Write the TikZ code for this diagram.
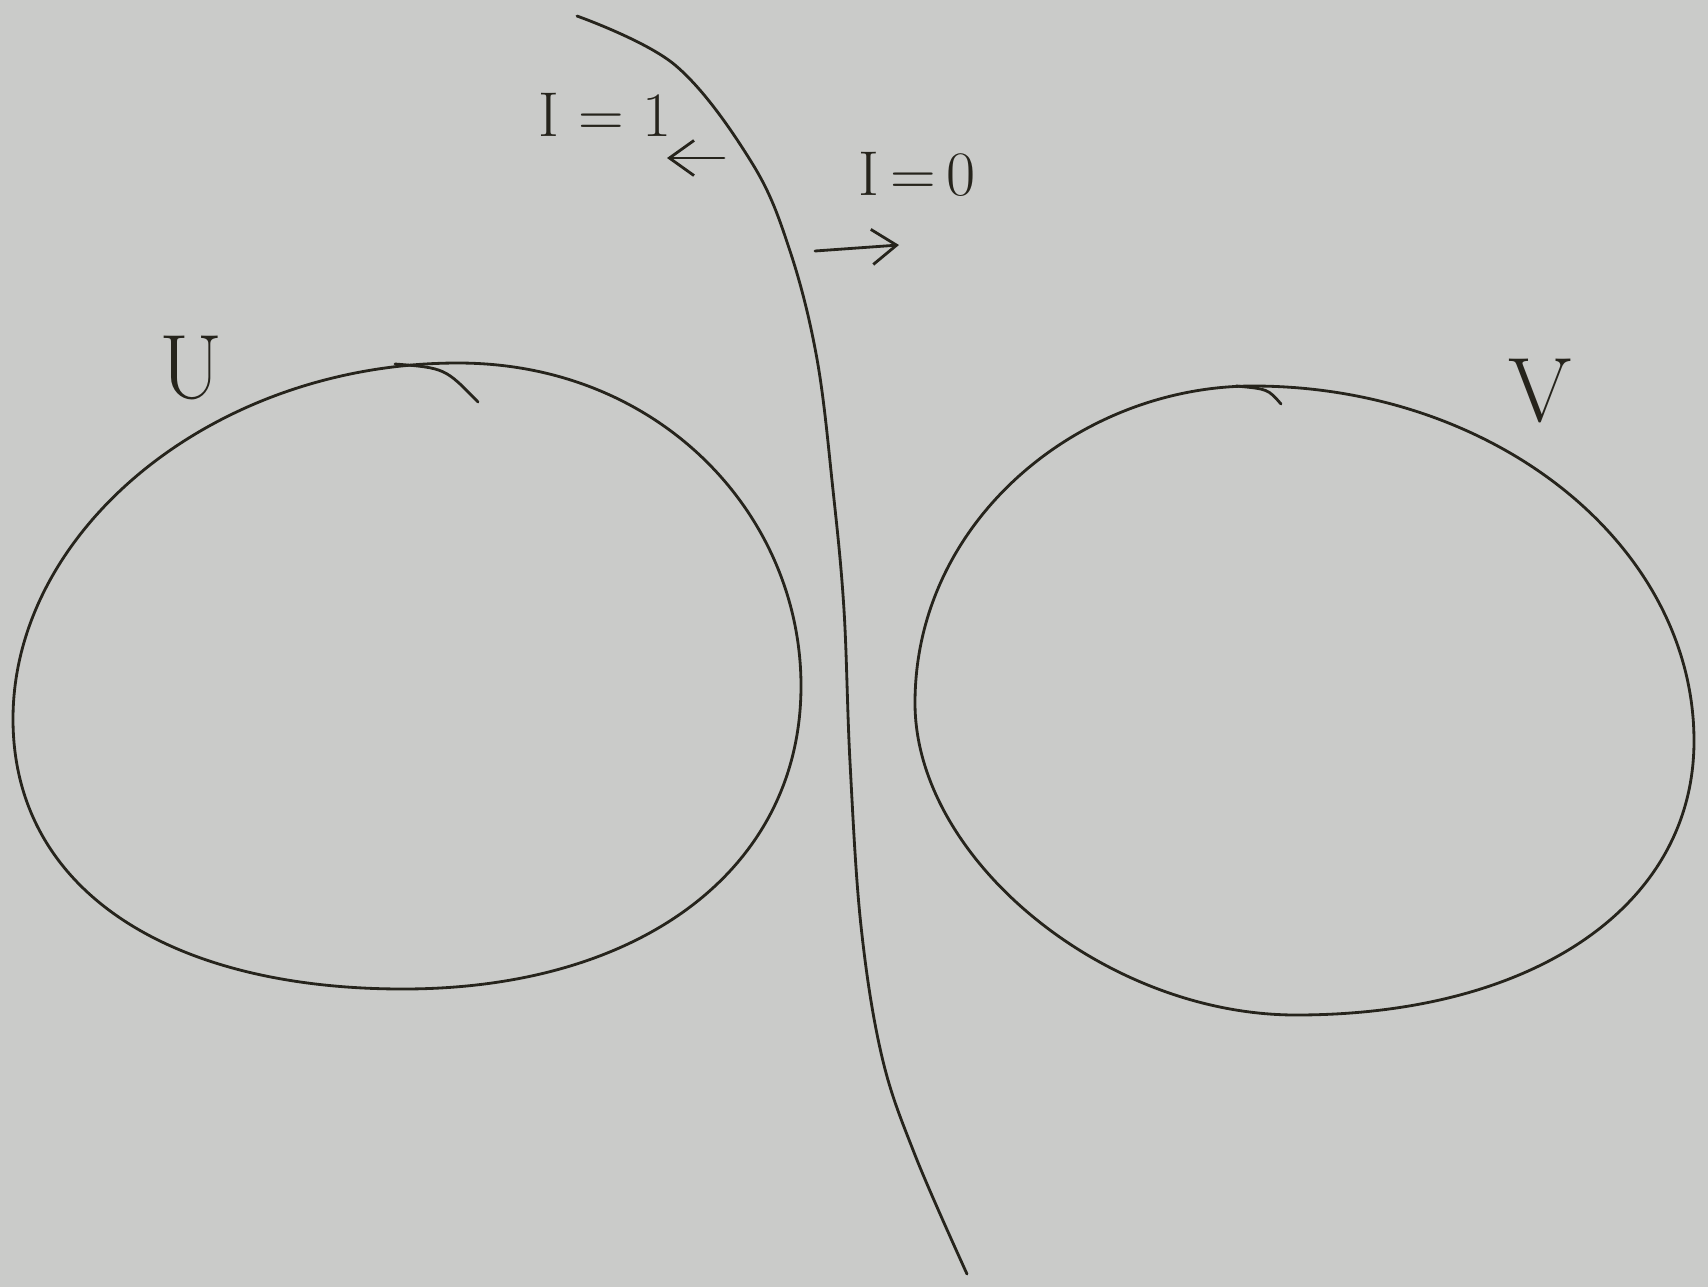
\documentclass[tikz,border=0pt]{standalone}
\usepackage{tikz}
\usetikzlibrary{arrows.meta, positioning}
\definecolor{paperGray}{RGB}{202,203,201}
\definecolor{penInk}{RGB}{38,36,28}

\begin{document}
\begin{tikzpicture}[x=0.01cm, y=-0.01cm,
  pen/.style={draw=penInk, line width=0.8pt, line join=round, line cap=round},
  lbl/.style={text=penInk, font=\fontsize{18}{22}\selectfont, inner sep=0pt},
  setname/.style={text=penInk, font=\fontsize{26}{30}\selectfont, inner sep=0pt},
  arr/.style={pen, -{Straight Barb[length=7pt, width=10pt]}}
]
  \fill[paperGray] (0,0) rectangle (1708,1287);
  \useasboundingbox (0,0) rectangle (1708,1287);

  % dividing curve
  \draw[pen] plot[smooth, tension=0.6] coordinates {(577,16) (675,65) (752,163)
    (790,251) (817,359) (833,490) (844,610) (850,762) (861,926) (882,1057)
    (915,1155) (967,1274)};

  % set U
  \coordinate (uTop) at (458,363);
  \coordinate (uLeft) at (13,719);
  \coordinate (uBot) at (403,989);
  \coordinate (uRight) at (801,686);
  \draw[pen] (uTop) .. controls (213,363) and (13,530) .. (uLeft)
    .. controls (13,890) and (169,989) .. (uBot)
    .. controls (642,989) and (801,868) .. (uRight)
    .. controls (801,515) and (660,363) .. cycle;
  \draw[pen] (395,364) .. controls (445,368) .. (478,402);
  \node[setname] (setU) at (191,368) {U};

  % set V
  \coordinate (vTop) at (1253,386);
  \coordinate (vLeft) at (915,703);
  \coordinate (vBot) at (1296,1015);
  \coordinate (vRight) at (1694,741);
  \draw[pen] (vTop) .. controls (1080,386) and (915,520) .. (vLeft)
    .. controls (915,859) and (1105,1015) .. (vBot)
    .. controls (1535,1015) and (1694,905) .. (vRight)
    .. controls (1694,546) and (1496,386) .. cycle;
  \draw[pen] (1236,386) .. controls (1268,389) .. (1281,404);
  \node[setname] (setV) at (1540,391) {V};

  % labels and directions
  \node[lbl] (one) at (605,115) {I = 1};
  \node[lbl] (zero) at (917,174) {I\,=\,0};
  \coordinate (oneFrom) at (724,158);
  \coordinate (oneTo) at (667,158);
  \coordinate (zeroFrom) at (815,251);
  \coordinate (zeroTo) at (899,245);
  \draw[arr] (oneFrom) -- (oneTo);
  \draw[arr] (zeroFrom) -- (zeroTo);
\end{tikzpicture}
\end{document}
